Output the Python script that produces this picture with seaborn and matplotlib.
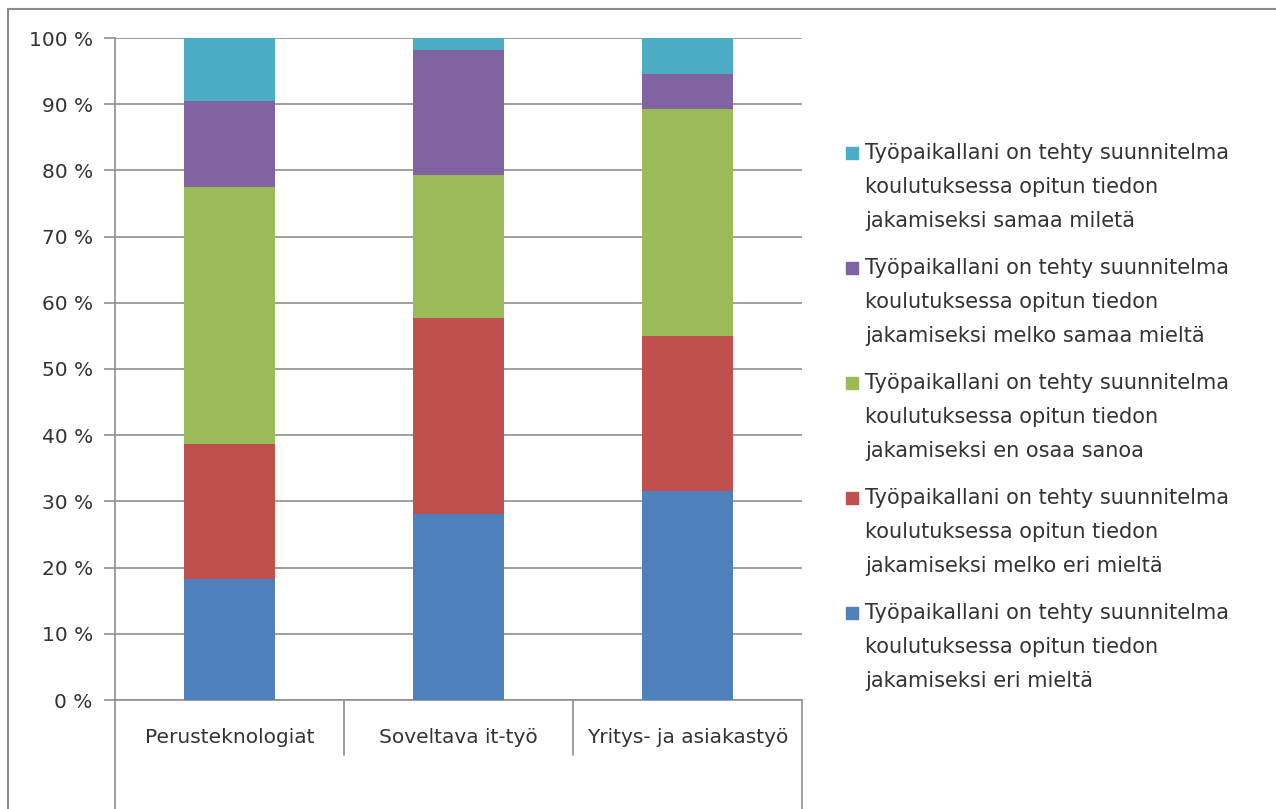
import numpy as np
import seaborn as sns
import matplotlib.pyplot as plt
from matplotlib.patches import Rectangle
from matplotlib.lines import Line2D

categories = ["Perusteknologiat", "Soveltava it-työ", "Yritys- ja asiakastyö"]
eri_mielta = [18.3, 28.1, 31.6]
melko_eri = [20.4, 29.6, 23.4]
en_osaa = [38.8, 21.6, 34.3]
melko_samaa = [13.0, 18.9, 5.3]
samaa = [9.5, 1.8, 5.4]

series = [eri_mielta, melko_eri, en_osaa, melko_samaa, samaa]
colors = ["#4F81BD", "#C0504D", "#9BBB59", "#8064A2", "#4BACC6"]
labels = [
    "Työpaikallani on tehty suunnitelma\nkoulutuksessa opitun tiedon\njakamiseksi eri mieltä",
    "Työpaikallani on tehty suunnitelma\nkoulutuksessa opitun tiedon\njakamiseksi melko eri mieltä",
    "Työpaikallani on tehty suunnitelma\nkoulutuksessa opitun tiedon\njakamiseksi en osaa sanoa",
    "Työpaikallani on tehty suunnitelma\nkoulutuksessa opitun tiedon\njakamiseksi melko samaa mieltä",
    "Työpaikallani on tehty suunnitelma\nkoulutuksessa opitun tiedon\njakamiseksi samaa miletä",
]

sns.set_style("white")
plt.rcParams["font.family"] = ["DejaVu Sans"]

W, H = 1276, 809
fig = plt.figure(figsize=(W / 100, H / 100), dpi=100)
ax = fig.add_axes([115 / W, 1 - 700 / H, 687 / W, 662 / H])

grid_c = "#8f8f8f"
txt_c = "#333333"
cum = np.cumsum(np.array(series), axis=0)
# draw cumulative totals from the top down so each layer shows
for i in range(len(series) - 1, -1, -1):
    sns.barplot(x=categories, y=cum[i], color=colors[i], width=0.4,
                saturation=1, linewidth=0, ax=ax, zorder=3)

ax.set_ylim(0, 100)
ax.set_xlim(-0.5, 2.5)
ax.set_yticks(range(0, 101, 10))
ax.set_yticklabels([f"{v} %" for v in range(0, 101, 10)], fontsize=14.5, color=txt_c)
ax.yaxis.grid(True, color=grid_c, linewidth=1.2, zorder=0)
ax.tick_params(axis="y", length=8, width=1.2, color=grid_c, pad=8, left=True)
ax.tick_params(axis="x", length=0, pad=20, labelsize=14.5, labelcolor=txt_c)
for s in ["top", "right"]:
    ax.spines[s].set_visible(False)
ax.spines["left"].set_color(grid_c)
ax.spines["left"].set_linewidth(1.2)
ax.spines["bottom"].set_color(grid_c)
ax.spines["bottom"].set_linewidth(1.2)

# category axis frame lines below the plot
tr = ax.get_xaxis_transform()
for xv in [0.5, 1.5]:
    ax.add_line(Line2D([xv, xv], [0, -55 / 662], transform=tr, color=grid_c,
                       lw=1.2, clip_on=False))
for xv in [-0.5, 2.5]:
    ax.add_line(Line2D([xv, xv], [0, -112 / 662], transform=tr, color=grid_c,
                       lw=1.2, clip_on=False))

# outer chart border
fig.add_artist(Line2D([8 / W, 8 / W], [0, 1 - 9 / H], color="#8c8c8c", lw=1.5))
fig.add_artist(Line2D([8 / W, 1], [1 - 9 / H, 1 - 9 / H], color="#8c8c8c", lw=1.5))

# legend, top entry first (reverse stacking order)
y0 = 153
for k, i in enumerate(range(len(series) - 1, -1, -1)):
    yy = y0 + k * 115
    fig.add_artist(Rectangle((846 / W, 1 - (yy + 6) / H), 12 / W, 12 / H,
                             transform=fig.transFigure, color=colors[i]))
    for j, line in enumerate(labels[i].split("\n")):
        fig.text(865 / W, 1 - (yy + j * 34) / H, line, fontsize=15,
                 color=txt_c, va="center", ha="left")

fig.savefig("out.png", dpi=100)
